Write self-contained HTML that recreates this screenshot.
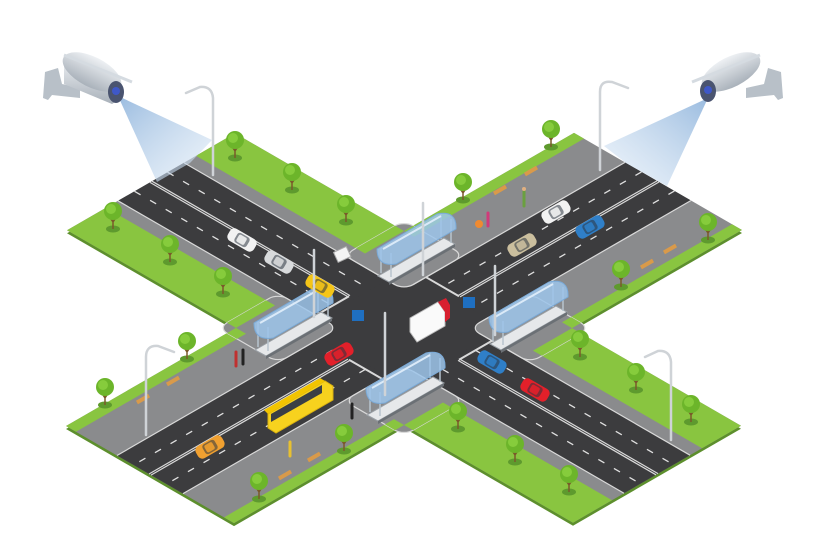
<!DOCTYPE html>
<html><head><meta charset="utf-8"><style>
html,body{margin:0;padding:0;background:#fff;width:826px;height:551px;overflow:hidden;}
svg{display:block;}
</style></head><body>
<svg width="826" height="551" viewBox="0 0 826 551" xmlns="http://www.w3.org/2000/svg">
<defs>
<linearGradient id="cone1" x1="0" y1="0" x2="1" y2="1"><stop offset="0" stop-color="#8fb4dc" stop-opacity="0.9"/><stop offset="1" stop-color="#dce9f6" stop-opacity="0.5"/></linearGradient>
<linearGradient id="cone2" x1="1" y1="0" x2="0" y2="1"><stop offset="0" stop-color="#8fb4dc" stop-opacity="0.9"/><stop offset="1" stop-color="#dce9f6" stop-opacity="0.5"/></linearGradient>
<linearGradient id="cam" x1="0" y1="0" x2="0" y2="1"><stop offset="0" stop-color="#eef1f4"/><stop offset="1" stop-color="#a9b1ba"/></linearGradient>
<g id="tree"><ellipse cx="0" cy="16" rx="7" ry="3.5" fill="#5e9a2e"/><path d="M0 16 V4 M0 9 L-4 3 M0 9 L4 3" stroke="#7a5a2a" stroke-width="1.5" fill="none"/><circle cx="0" cy="-2" r="9" fill="#6cb52a"/><circle cx="-2" cy="-4" r="5" fill="#86cc3c"/></g>
<g id="shelter">
<polygon points="-33,19 33,-19 44,-13 -22,25" fill="#e6e8ea" stroke="#9aa0a6" stroke-width="1"/>
<polygon points="-22,25 44,-13 44,-10 -22,28" fill="#6b7075"/>
<path d="M-30 16 V-10 M30 -18 V-44 M-20 20 V-4 M40 -14 V-38" stroke="#b8c4ce" stroke-width="1.5"/>
<path d="M-34 -8 L26 -43 Q46 -47 45 -28 L-15 7 Q-34 10 -34 -8 Z" fill="#9cc4ea" fill-opacity="0.85" stroke="#7aaad8" stroke-width="1"/>
<path d="M-28 -8 L30 -41" stroke="#dbeaf8" stroke-width="2"/>
</g>
<g id="car"><rect x="-15" y="-7" width="30" height="14" rx="5"/><rect x="-7" y="-5.5" width="14" height="11" rx="3" fill="#2c3440" fill-opacity="0.55"/><rect x="-5" y="-4" width="9" height="8" rx="2" fill-opacity="0.9"/></g>
</defs>

<g transform="translate(0,3) matrix(1 0.578 -1 0.577 404 328)">
<rect x="-253" y="-84" width="506" height="168" fill="#5d8f2d"/>
<rect x="-84" y="-254" width="168" height="508" fill="#5d8f2d"/>
</g>
<g transform="matrix(1 0.578 -1 0.577 404 328)">
<rect x="-253" y="-84" width="506" height="168" fill="#8a8b8d"/>
<rect x="-84" y="-254" width="168" height="508" fill="#8a8b8d"/>
<g fill="#89c540">
<rect x="-253" y="45" width="169" height="39"/><rect x="-253" y="-84" width="169" height="39"/>
<rect x="84" y="45" width="169" height="39"/><rect x="84" y="-84" width="169" height="39"/>
<rect x="74" y="-254" width="10" height="170"/><rect x="-84" y="-254" width="10" height="170"/>
<rect x="74" y="84" width="10" height="170"/><rect x="-84" y="84" width="10" height="170"/>
</g>
<g fill="#3c3c3e">
<rect x="-253" y="-33" width="506" height="66"/>
<rect x="-33" y="-254" width="66" height="508"/>
<rect x="-50" y="-50" width="100" height="100"/>
</g>
<g fill="#8a8b8d" stroke="#d9d9d9" stroke-width="1.2">
<rect x="33" y="33" width="60" height="60" rx="9" vector-effect="non-scaling-stroke"/>
<rect x="-93" y="33" width="60" height="60" rx="9" vector-effect="non-scaling-stroke"/>
<rect x="33" y="-93" width="60" height="60" rx="9" vector-effect="non-scaling-stroke"/>
<rect x="-93" y="-93" width="60" height="60" rx="9" vector-effect="non-scaling-stroke"/>
</g>
<g fill="#89c540">
<rect x="84" y="45" width="9" height="39"/><rect x="84" y="-84" width="9" height="39"/>
<rect x="-93" y="45" width="9" height="39"/><rect x="-93" y="-84" width="9" height="39"/>
<rect x="74" y="84" width="10" height="9"/><rect x="-84" y="84" width="10" height="9"/>
<rect x="74" y="-93" width="10" height="9"/><rect x="-84" y="-93" width="10" height="9"/>
</g>
<g stroke="#d9d9d9" stroke-width="1.2" fill="none">
<path d="M-253 -33 H-42 M42 -33 H253 M-253 33 H-42 M42 33 H253 M-33 -254 V-42 M-33 42 V254 M33 -254 V-42 M33 42 V254" vector-effect="non-scaling-stroke"/>
<path d="M-253 -1 H-55 M55 -1 H253 M-253 1 H-55 M55 1 H253 M-1 -254 V-55 M-1 55 V254 M1 -254 V-55 M1 55 V254" vector-effect="non-scaling-stroke"/>
<path d="M-55 0 V33 M55 0 V-33 M0 -55 H-33 M0 55 H33" stroke-width="2" vector-effect="non-scaling-stroke"/>
</g>
<g stroke="#e0e0e0" stroke-width="1.3" stroke-dasharray="7 11" fill="none">
<path d="M-253 -16.5 H-55 M55 -16.5 H253 M-253 16.5 H-55 M55 16.5 H253 M-16.5 -254 V-55 M-16.5 55 V254 M16.5 -254 V-55 M16.5 55 V254" vector-effect="non-scaling-stroke"/>
</g>
</g>

<polygon points="118,96 212,140 190,163 157,182" fill="url(#cone1)"/>
<polygon points="708,98 604,146 626,163 667,186" fill="url(#cone2)"/>

<g>
<use href="#tree" x="235" y="142"/><use href="#tree" x="292" y="174"/><use href="#tree" x="346" y="206"/>
<use href="#tree" x="113" y="213"/><use href="#tree" x="170" y="246"/><use href="#tree" x="223" y="278"/>
<use href="#tree" x="551" y="131"/><use href="#tree" x="463" y="184"/><use href="#tree" x="708" y="224"/><use href="#tree" x="621" y="271"/>
<use href="#tree" x="580" y="341"/><use href="#tree" x="636" y="374"/><use href="#tree" x="691" y="406"/>
<use href="#tree" x="458" y="413"/><use href="#tree" x="515" y="446"/><use href="#tree" x="569" y="476"/>
<use href="#tree" x="105" y="389"/><use href="#tree" x="187" y="343"/>
<use href="#tree" x="344" y="435"/><use href="#tree" x="259" y="483"/>
</g>
<g fill="#d99a4a">
<rect x="493" y="188" width="14" height="4" transform="rotate(-30 500 190)"/><rect x="524" y="169" width="14" height="4" transform="rotate(-30 531 171)"/>
<rect x="663" y="247" width="14" height="4" transform="rotate(-30 670 249)"/><rect x="640" y="262" width="14" height="4" transform="rotate(-30 647 264)"/>
<rect x="136" y="397" width="14" height="4" transform="rotate(-30 143 399)"/><rect x="166" y="379" width="14" height="4" transform="rotate(-30 173 381)"/>
<rect x="278" y="473" width="14" height="4" transform="rotate(-30 285 475)"/><rect x="307" y="455" width="14" height="4" transform="rotate(-30 314 457)"/>
</g>

<use href="#shelter" x="411" y="257"/>
<use href="#shelter" x="288" y="331"/>
<use href="#shelter" x="523" y="325"/>
<use href="#shelter" x="400" y="396"/>

<g transform="translate(242,240) rotate(30)"><use href="#car" fill="#f2f2f2"/></g>
<g transform="translate(279,262) rotate(30)"><use href="#car" fill="#d8dadc"/></g>
<g transform="translate(320,286) rotate(30)"><use href="#car" fill="#f5c518"/></g>
<g transform="translate(339,354) rotate(-30)"><use href="#car" fill="#e3202a"/></g>
<g transform="translate(210,447) rotate(-30)"><use href="#car" fill="#f0a030"/></g>
<g transform="translate(492,362) rotate(30)"><use href="#car" fill="#2f7fc8"/></g>
<g transform="translate(535,390) rotate(30)"><use href="#car" fill="#e3202a"/></g>
<g transform="translate(522,245) rotate(-30)"><use href="#car" fill="#cbbf9e"/></g>
<g transform="translate(590,227) rotate(-30)"><use href="#car" fill="#2f7fc8"/></g>
<g transform="translate(556,212) rotate(-30)"><use href="#car" fill="#f2f2f2"/></g>
<polygon points="410,318 438,302 445,312 445,326 417,342 410,332" fill="#fafafa" stroke="#bbb"/>
<polygon points="438,302 446,298 450,305 450,318 445,322 445,312" fill="#d82030"/>
<polygon points="268,414 325,381 333,386 333,400 276,433 268,428" fill="#f7d21e" stroke="#d8b010"/>
<polygon points="271,414 322,385 322,393 271,422" fill="#3a3f45"/>
<polygon points="268,414 325,381 320,378 264,410" fill="#f2c400"/>

<g stroke="#cfd3d7" stroke-width="2.5" fill="none" stroke-linecap="round">
<path d="M213 175 V98 Q212 86 200 87 L186 93"/>
<path d="M600 170 V92 Q600 80 612 82 L628 88"/>
<path d="M671 440 V362 Q670 350 658 351 L645 357"/>
<path d="M146 435 V357 Q146 345 158 346 L174 352"/>
<path d="M314 317 V250"/><path d="M423 275 V203"/><path d="M495 335 V266"/><path d="M385 395 V313"/>
</g>
<g fill="#1f6fc0"><rect x="352" y="310" width="12" height="11"/><rect x="463" y="297" width="12" height="11"/></g>
<rect x="335" y="249" width="14" height="11" fill="#f4f4f4" stroke="#aaa" transform="rotate(-25 342 254)"/>
<g stroke-width="3" stroke-linecap="round">
<path d="M524 191 V206" stroke="#6aa040"/><circle cx="524" cy="189" r="2" fill="#e0b080"/>
<path d="M488 213 V226" stroke="#d03a7a"/><circle cx="479" cy="224" r="4" fill="#f08a30"/>
<path d="M236 352 V366" stroke="#c03030"/><path d="M243 350 V364" stroke="#222"/>
<path d="M352 404 V418" stroke="#222"/>
<path d="M290 442 V456" stroke="#e8c030"/>
</g>

<g>
<polygon points="45,72 58,68 62,84 80,88 80,98 52,95 48,100 43,98" fill="#b8c0c8"/>
<polygon points="64,58 112,78 122,98 112,104 64,84" fill="url(#cam)"/>
<ellipse cx="92" cy="72" rx="32" ry="15" transform="rotate(27 92 72)" fill="url(#cam)"/>
<path d="M64 55 L132 82" stroke="#d5dbe1" stroke-width="3"/>
<ellipse cx="116" cy="92" rx="8" ry="11" fill="#4a5470"/><circle cx="116" cy="91" r="4" fill="#3f58c8"/>
</g>
<g>
<polygon points="781,72 768,68 764,84 746,88 746,98 774,95 778,100 783,98" fill="#b8c0c8"/>
<ellipse cx="731" cy="72" rx="32" ry="15" transform="rotate(-27 731 72)" fill="url(#cam)"/>
<path d="M760 55 L692 82" stroke="#d5dbe1" stroke-width="3"/>
<ellipse cx="708" cy="91" rx="8" ry="11" fill="#4a5470"/><circle cx="708" cy="90" r="4" fill="#3f58c8"/>
</g>
</svg>
</body></html>
